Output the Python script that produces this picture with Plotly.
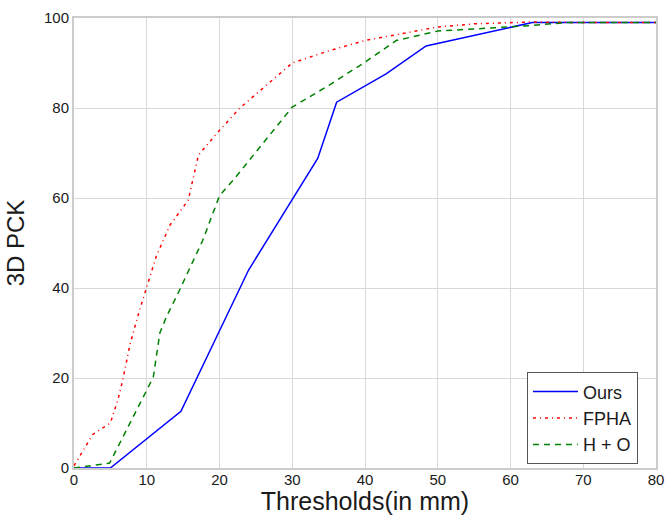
import plotly.graph_objects as go

# Thresholds (mm) and 3D PCK values
ours_x = [0, 5, 14.7, 24, 33.5, 36.1, 42.9, 48.4, 63, 70, 80]
ours_y = [0, 0, 12.6, 44, 68.8, 81.3, 87.6, 93.8, 99, 99, 99]

fpha_x = [0, 2.6, 5, 6, 6.7, 7.7, 9, 10, 11.3, 13.2, 15.7, 17.1, 19.6, 22.8, 30, 35, 40, 45, 50, 55, 62.7, 70, 80]
fpha_y = [0.5, 7.5, 10, 15, 19.5, 27.5, 35, 40, 47, 54, 59.5, 69.5, 74.3, 80, 90, 92.7, 95, 96.5, 98, 98.7, 99.1, 99, 99]

ho_x = [0, 4.9, 10, 10.9, 11.8, 12.7, 14.5, 17.7, 20, 21.9, 30, 35, 40, 44.3, 50, 57.6, 62.7, 67.7, 80]
ho_y = [0, 1.1, 17.3, 20.2, 30, 33.6, 39.5, 50.6, 60.5, 64, 80.2, 85, 90.2, 95, 97.1, 97.9, 98.3, 99, 99]

x_ticks = [0, 10, 20, 30, 40, 50, 60, 70, 80]
y_ticks = [0, 20, 40, 60, 80, 100]

fig = go.Figure()

fig.add_trace(go.Scatter(x=ours_x, y=ours_y, mode="lines", name="Ours",
                         line=dict(color="#0000ff", width=1.5)))
fig.add_trace(go.Scatter(x=fpha_x, y=fpha_y, mode="lines", name="FPHA",
                         line=dict(color="#ff0000", width=1.5, dash="3px,4px,1px,4px")))
fig.add_trace(go.Scatter(x=ho_x, y=ho_y, mode="lines", name="H + O",
                         line=dict(color="#008000", width=1.5, dash="6px,5px")))

axis_style = dict(showgrid=True, gridcolor="#d9d9d9", gridwidth=1,
                  showline=True, linecolor="#cccccc", linewidth=2, mirror=True,
                  zeroline=False, ticks="", automargin=False,
                  tickfont=dict(size=15, color="#1a1a1a"))

fig.update_layout(
    width=665, height=515,
    margin=dict(l=74, r=9, t=18, b=47),
    paper_bgcolor="white", plot_bgcolor="white",
    font=dict(family="Liberation Sans, Arial, sans-serif", color="#1a1a1a"),
    xaxis=dict(range=[0, 80], tickvals=x_ticks, ticklabelstandoff=-3,
               title=dict(text="Thresholds(in mm)", font=dict(size=25), standoff=5),
               **axis_style),
    yaxis=dict(range=[0, 100], tickvals=y_ticks,
               title=dict(text="3D PCK", font=dict(size=24), standoff=13),
               **axis_style),
    legend=dict(x=0.969, y=0.008, xanchor="right", yanchor="bottom",
                bgcolor="white", bordercolor="#555555", borderwidth=1,
                itemwidth=45,
                font=dict(size=18, color="#1a1a1a")),
    showlegend=True,
)

# drop the page's default body margin so the figure sits at the window origin
fig.write_html("out.html", config={"displayModeBar": False},
               post_script="document.body.style.margin='0';")
